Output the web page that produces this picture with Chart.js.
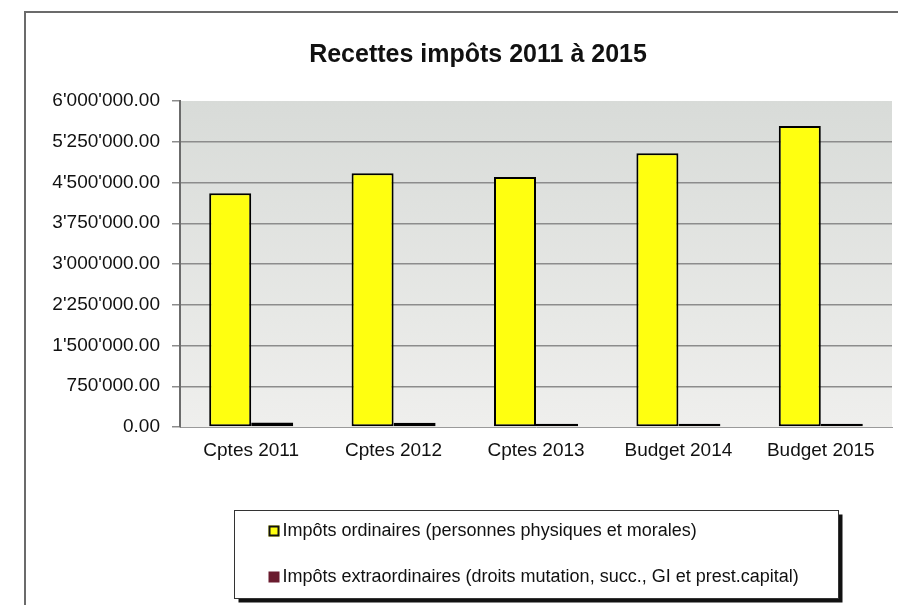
<!DOCTYPE html>
<html>
<head>
<meta charset="utf-8">
<script src="https://cdn.jsdelivr.net/npm/chart.js@4/dist/chart.umd.min.js"></script>
<style>
  html, body { margin: 0; padding: 0; background: #fff; overflow: hidden; width: 898px; height: 605px; }
  #cadre { position: absolute; left: 24px; top: 11px; width: 1000px; height: 700px;
           border-left: 2px solid #6b6b6b; border-top: 2px solid #6b6b6b; }
  #graph { position: absolute; left: 0; top: 0; }
</style>
</head>
<body>
<div id="cadre"><canvas id="graph" width="873" height="592"></canvas></div>
<script>
// Données
const annees = ["Cptes 2011", "Cptes 2012", "Cptes 2013", "Budget 2014", "Budget 2015"];
const impotsOrdinaires = [4300000, 4670000, 4600000, 5040000, 5540000];
const impotsExtra = [85000, 80000, 60000, 60000, 60000];
const graduations = [0, 750000, 1500000, 2250000, 3000000, 3750000, 4500000, 5250000, 6000000];

const police = "'Liberation Sans', Arial, sans-serif";

const formatCHF = (v) => {
    const n = Math.round(v).toString().replace(/\B(?=(\d{3})+(?!\d))/g, "'");
    return n + ".00";
};

// fond gris dégradé de la zone du graphique
const fondZone = {
    id: "fondZone",
    beforeDraw(chart) {
        const { ctx, chartArea: a } = chart;
        const g = ctx.createLinearGradient(0, a.top, 0, a.bottom);
        g.addColorStop(0, "#d8dbd8");
        g.addColorStop(1, "#efefed");
        ctx.save();
        ctx.fillStyle = g;
        ctx.fillRect(a.left, a.top, a.right - a.left, a.bottom - a.top);
        ctx.restore();
    }
};

// le titre est centré sur tout le cadre, pas seulement sur la zone du graphique
const decalTitre = {
    id: "decalTitre",
    afterLayout(chart) {
        if (chart.titleBlock) chart.titleBlock.left += 38;
    }
};

// légende encadrée avec ombre, sous le graphique
const legendeBoite = {
    id: "legendeBoite",
    afterDraw(chart) {
        const { ctx, chartArea: a } = chart;
        const w = 604, h = 88;
        const x = Math.round((a.left + a.right) / 2 - w / 2) + 0.5;
        const y = 497.5;
        ctx.save();
        ctx.fillStyle = "#111";
        ctx.fillRect(x + 4, y + 4, w, h);
        ctx.fillStyle = "#fff";
        ctx.fillRect(x, y, w, h);
        ctx.strokeStyle = "#333";
        ctx.lineWidth = 1;
        ctx.strokeRect(x, y, w, h);
        ctx.font = "18px " + police;
        ctx.textBaseline = "middle";
        chart.data.datasets.forEach((ds, i) => {
            const ly = y + 20 + i * 46;
            const mx = x + 34;
            ctx.fillStyle = ds.backgroundColor;
            ctx.fillRect(mx, ly - 5, 11, 11);
            if (i === 0) {
                ctx.strokeStyle = "#111";
                ctx.lineWidth = 2;
                ctx.strokeRect(mx + 1, ly - 4, 9, 9);
            }
            ctx.fillStyle = "#111";
            ctx.fillText(ds.label, mx + 14, ly + 1);
        });
        ctx.restore();
    }
};

new Chart(document.getElementById("graph"), {
    type: "bar",
    data: {
        labels: annees,
        datasets: [{
            label: "Impôts ordinaires (personnes physiques et morales)",
            data: impotsOrdinaires,
            backgroundColor: "#ffff10",
            borderColor: "#000",
            borderWidth: 2,
            borderSkipped: false,
            categoryPercentage: 0.59,
            barPercentage: 1.0
        }, {
            label: "Impôts extraordinaires (droits mutation, succ., GI et prest.capital)",
            data: impotsExtra,
            backgroundColor: "#6a1b2e",
            borderColor: "#000",
            borderWidth: 2,
            borderSkipped: false,
            categoryPercentage: 0.59,
            barPercentage: 1.0
        }]
    },
    options: {
        responsive: false,
        animation: false,
        devicePixelRatio: 1,
        layout: { padding: { left: 0, right: 7, top: 0, bottom: 138 } },
        plugins: {
            legend: { display: false },
            tooltip: { enabled: false },
            title: {
                display: true,
                text: "Recettes impôts 2011 à 2015",
                color: "#111",
                font: { family: police, size: 25, weight: "bold" },
                padding: { top: 27, bottom: 31 }
            }
        },
        scales: {
            x: {
                afterFit: (s) => { s.height = 40; },
                grid: { display: false, drawTicks: false },
                border: { color: "#9a9a9a", width: 1 },
                ticks: { color: "#111", font: { family: police, size: 19 }, padding: 12 }
            },
            y: {
                min: 0,
                max: 6000000,
                afterFit: (s) => { s.width = 154; },
                afterBuildTicks: (s) => { s.ticks = graduations.map(v => ({ value: v })); },
                border: { color: "#6b6b6b", width: 2 },
                grid: {
                    color: (c) => (c.index === 0 || c.tick.value === 6000000) ? "rgba(0,0,0,0)" : "#8c8c8c",
                    tickColor: "#8c8c8c",
                    tickLength: 8,
                    lineWidth: 1.5
                },
                ticks: {
                    color: "#111",
                    font: { family: police, size: 19 },
                    padding: 12,
                    callback: (v) => formatCHF(v)
                }
            }
        }
    },
    plugins: [fondZone, decalTitre, legendeBoite]
});
</script>
</body>
</html>
